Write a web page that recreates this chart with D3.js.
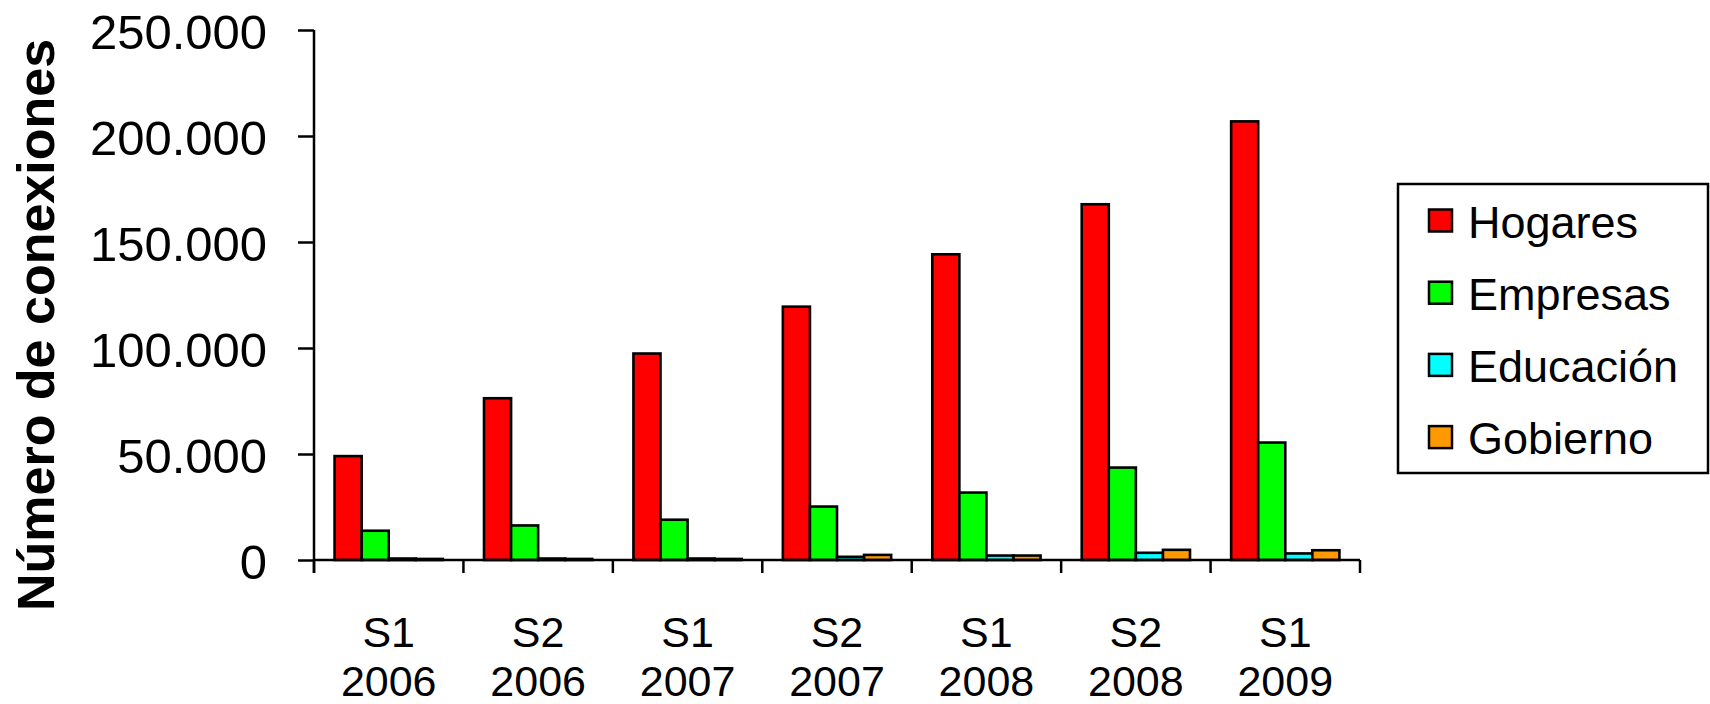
<!DOCTYPE html>
<html>
<head>
<meta charset="utf-8">
<script src="https://cdn.jsdelivr.net/npm/d3@7"></script>
<style>
  html, body { margin: 0; padding: 0; background: #fff; }
  svg { display: block; font-family: "Liberation Sans", Arial, sans-serif; }
</style>
</head>
<body>
<svg id="chart" width="1710" height="704"></svg>
<script>
// ---- data ----
const categories = ["S1 2006", "S2 2006", "S1 2007", "S2 2007", "S1 2008", "S2 2008", "S1 2009"];
const seriesNames = ["Hogares", "Empresas", "Educación", "Gobierno"];
const seriesColors = ["#FF0000", "#00FF00", "#00FFFF", "#FF9900"];
const hogares   = [49000, 76300, 97400, 119500, 144200, 167800, 206900];
const empresas  = [13800, 16300, 19000, 25200, 31800, 43600, 55400];
const educacion = [700, 700, 700, 1500, 2100, 3400, 3100];
const gobierno  = [500, 500, 500, 2400, 2100, 4800, 4600];
const yTicks = [0, 50000, 100000, 150000, 200000, 250000];
const yTitle = "Número de conexiones";

const seriesValues = [hogares, empresas, educacion, gobierno];

const svg = d3.select("#chart");

const x = d3.scaleBand().domain(categories).range([314, 1360]).paddingInner(0).paddingOuter(0);
const xs = d3.scaleBand().domain(seriesNames).range([0, x.bandwidth()]).paddingInner(0).paddingOuter(0.76);
const y = d3.scaleLinear().domain([0, 250000]).range([560, 30]);

const locale = d3.formatLocale({ decimal: ",", thousands: ".", grouping: [3], currency: ["", ""] });
const fmt = locale.format(",");

// ---- bars ----
const groups = svg.append("g").selectAll("g")
  .data(categories)
  .join("g")
  .attr("transform", d => `translate(${x(d)},0)`);

groups.selectAll("rect")
  .data((c, i) => seriesNames.map((s, k) => ({ s, k, v: seriesValues[k][i] })))
  .join("rect")
  .attr("x", d => xs(d.s))
  .attr("width", xs.bandwidth())
  .attr("y", d => y(d.v))
  .attr("height", d => y(0) - y(d.v))
  .attr("fill", d => seriesColors[d.k])
  .attr("stroke", "#000")
  .attr("stroke-width", 2.6);

// ---- y axis ----
const yAxis = svg.append("g")
  .attr("transform", `translate(${x.range()[0]},0)`)
  .call(d3.axisLeft(y).tickValues(yTicks).tickFormat(fmt).tickSize(16).tickSizeOuter(0).tickPadding(31));
yAxis.select(".domain").remove();
yAxis.selectAll(".tick line").attr("stroke", "#000").attr("stroke-width", 2.5);
yAxis.selectAll(".tick text")
  .attr("font-size", 49)
  .attr("fill", "#000")
  .attr("font-family", "Liberation Sans, Arial, sans-serif")
  .attr("dy", "0.37em");
svg.append("line")
  .attr("x1", x.range()[0]).attr("x2", x.range()[0])
  .attr("y1", y.range()[1]).attr("y2", y(0) + 13)
  .attr("stroke", "#000").attr("stroke-width", 2.5);

// ---- x axis ----
svg.append("line")
  .attr("x1", x.range()[0]).attr("x2", x.range()[1])
  .attr("y1", y(0)).attr("y2", y(0))
  .attr("stroke", "#000").attr("stroke-width", 2.5);
const boundaries = categories.map(c => x(c)).concat([x.range()[1]]);
svg.append("g").selectAll("line")
  .data(boundaries)
  .join("line")
  .attr("x1", d => d).attr("x2", d => d)
  .attr("y1", y(0)).attr("y2", y(0) + 13)
  .attr("stroke", "#000").attr("stroke-width", 2.5);

const xLabels = svg.append("g").selectAll("text")
  .data(categories)
  .join("text")
  .attr("text-anchor", "middle")
  .attr("font-size", 43)
  .attr("fill", "#000");
xLabels.each(function (d) {
  const parts = d.split(" ");
  const cx = x(d) + x.bandwidth() / 2;
  const t = d3.select(this);
  t.append("tspan").attr("x", cx).attr("y", y(0) + 87).text(parts[0]);
  t.append("tspan").attr("x", cx).attr("y", y(0) + 136).text(parts[1]);
});

// ---- y title ----
svg.append("text")
  .attr("transform", "translate(54,325) rotate(-90)")
  .attr("text-anchor", "middle")
  .attr("font-size", 52)
  .attr("font-weight", "bold")
  .attr("fill", "#000")
  .text(yTitle);

// ---- legend ----
const legend = svg.append("g");
legend.append("rect")
  .attr("x", 1398).attr("y", 184).attr("width", 310).attr("height", 289)
  .attr("fill", "#fff").attr("stroke", "#000").attr("stroke-width", 2.5);
const legRows = legend.selectAll("g.row")
  .data(seriesNames)
  .join("g")
  .attr("class", "row")
  .attr("transform", (d, i) => `translate(0,${220.5 + i * 72.2})`);
legRows.append("rect")
  .attr("x", 1429).attr("y", -11).attr("width", 23).attr("height", 22)
  .attr("fill", (d, i) => seriesColors[i])
  .attr("stroke", "#000").attr("stroke-width", 2.5);
legRows.append("text")
  .attr("x", 1468).attr("y", 17)
  .attr("font-size", 45)
  .attr("fill", "#000")
  .text(d => d);
</script>
</body>
</html>
